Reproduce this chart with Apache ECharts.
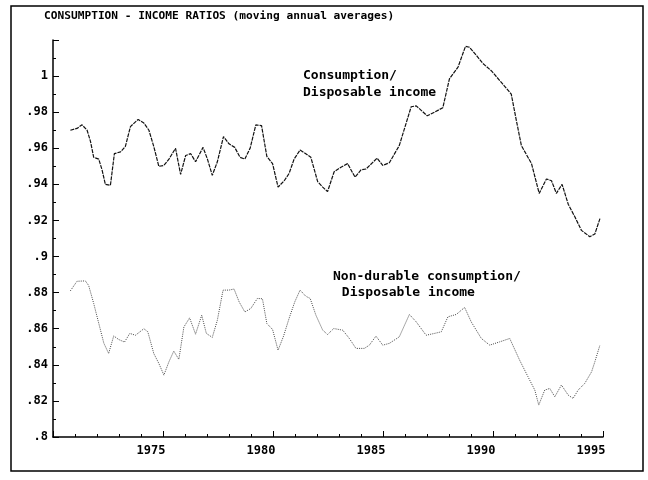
<!DOCTYPE html>
<html>
<head>
<meta charset="utf-8">
<script src="https://cdn.jsdelivr.net/npm/echarts@6/dist/echarts.min.js"></script>
<style>html,body{margin:0;padding:0;background:#fff}#c{width:648px;height:480px}</style>
</head>
<body>
<div id="c"></div>
<script>
var title = 'CONSUMPTION - INCOME RATIOS (moving annual averages)';
var consLabel = ['Consumption/', 'Disposable income'];
var ndLabel = ['Non-durable consumption/', ' Disposable income'];

var consYears = [1970.79,1971.09,1971.32,1971.55,1971.70,1971.85,1972.08,1972.23,1972.38,1972.61,1972.79,1973.07,1973.29,1973.52,1973.87,1974.13,1974.36,1974.58,1974.81,1975.04,1975.27,1975.57,1975.80,1976.03,1976.26,1976.48,1976.82,1977.02,1977.24,1977.47,1977.75,1978.00,1978.26,1978.50,1978.72,1978.96,1979.22,1979.48,1979.72,1979.98,1980.23,1980.51,1980.73,1980.96,1981.23,1981.49,1981.72,1982.03,1982.26,1982.48,1982.78,1983.09,1983.39,1983.73,1984.00,1984.23,1984.73,1984.99,1985.29,1985.74,1986.28,1986.51,1987.01,1987.34,1987.72,1988.02,1988.41,1988.75,1988.93,1989.24,1989.54,1989.92,1990.38,1990.83,1991.06,1991.29,1991.75,1992.10,1992.43,1992.66,1992.88,1993.14,1993.42,1993.72,1994.02,1994.40,1994.63,1994.86];
var consValues = [0.970,0.971,0.973,0.970,0.964,0.955,0.954,0.948,0.940,0.9395,0.957,0.958,0.961,0.972,0.976,0.974,0.970,0.961,0.950,0.9505,0.954,0.960,0.9455,0.956,0.957,0.9525,0.9605,0.954,0.945,0.9525,0.9665,0.9625,0.9605,0.955,0.954,0.960,0.973,0.9725,0.9555,0.9515,0.9385,0.942,0.946,0.954,0.959,0.957,0.955,0.9415,0.9385,0.936,0.947,0.9495,0.9515,0.944,0.948,0.9485,0.9545,0.9505,0.952,0.9615,0.983,0.9835,0.978,0.980,0.9825,0.9985,1.005,1.0165,1.016,1.0115,1.007,1.003,0.9965,0.990,0.9755,0.9615,0.9515,0.935,0.943,0.942,0.935,0.940,0.929,0.922,0.9145,0.911,0.9125,0.921];

var ndYears = [1970.79,1971.09,1971.47,1971.62,1971.85,1972.08,1972.31,1972.53,1972.76,1972.99,1973.25,1973.49,1973.75,1974.13,1974.31,1974.58,1974.81,1975.04,1975.27,1975.49,1975.72,1975.95,1976.21,1976.48,1976.76,1976.97,1977.24,1977.47,1977.73,1978.00,1978.23,1978.46,1978.72,1978.99,1979.29,1979.52,1979.72,1979.98,1980.23,1980.48,1980.73,1980.99,1981.23,1981.49,1981.69,1981.95,1982.26,1982.48,1982.76,1983.17,1983.47,1983.77,1984.15,1984.38,1984.68,1984.99,1985.29,1985.74,1986.20,1986.51,1986.96,1987.34,1987.65,1987.95,1988.33,1988.71,1989.01,1989.47,1989.85,1990.30,1990.76,1991.21,1991.59,1991.90,1992.08,1992.35,1992.58,1992.81,1993.11,1993.42,1993.64,1993.87,1994.17,1994.48,1994.63,1994.86];
var ndValues = [0.881,0.8863,0.8865,0.884,0.874,0.863,0.852,0.8463,0.856,0.854,0.8526,0.8574,0.8564,0.860,0.8583,0.8463,0.8408,0.8343,0.8417,0.8476,0.843,0.861,0.866,0.857,0.8675,0.8574,0.8552,0.8647,0.8814,0.8814,0.882,0.8749,0.8693,0.8712,0.8768,0.8766,0.8629,0.8596,0.8481,0.8559,0.8657,0.8749,0.8814,0.878,0.8768,0.8675,0.8592,0.8568,0.8601,0.8592,0.8546,0.8491,0.8491,0.8509,0.8559,0.8509,0.8519,0.8555,0.8679,0.8638,0.8564,0.8574,0.8583,0.8666,0.8679,0.8718,0.8638,0.8546,0.8509,0.8527,0.8546,0.8426,0.8334,0.826,0.8177,0.826,0.8269,0.8223,0.8288,0.8232,0.8214,0.826,0.8297,0.8361,0.8417,0.8509];

function pairs(xs, ys) { return xs.map(function (x, i) { return [x, ys[i]]; }); }

var FONT = '"DejaVu Sans Mono", "Liberation Mono", monospace';
var chart = echarts.init(document.getElementById('c'), null, { renderer: 'canvas' });
chart.setOption({
  animation: false,
  backgroundColor: '#fff',
  grid: { left: 53, right: 45, top: 40, bottom: 43, containLabel: false },
  xAxis: {
    type: 'value', min: 1970, max: 1995, interval: 5,
    axisLine: { show: true, lineStyle: { color: '#000', width: 1.5 } },
    axisTick: { show: true, inside: true, length: 6, lineStyle: { color: '#000', width: 1 } },
    minorTick: { show: true, splitNumber: 5, length: 3, lineStyle: { color: '#000', width: 1 } },
    splitLine: { show: false },
    axisLabel: {
      margin: 8, color: '#000', fontFamily: FONT, fontWeight: 'bold', fontSize: 12,
      padding: [0, 24, 0, 0],
      formatter: function (v) { return v <= 1970 ? '' : String(Math.round(v)); }
    }
  },
  yAxis: {
    type: 'value', min: 0.8, max: 1.02, interval: 0.02,
    axisLine: { show: true, lineStyle: { color: '#000', width: 1.5 } },
    axisTick: { show: true, inside: true, length: 6, lineStyle: { color: '#000', width: 1 } },
    minorTick: { show: true, splitNumber: 2, length: 3, lineStyle: { color: '#000', width: 1 } },
    splitLine: { show: false },
    axisLabel: {
      margin: 5, color: '#000', fontFamily: FONT, fontWeight: 'bold', fontSize: 12,
      formatter: function (v) {
        if (v > 1.005) return '';
        var s = v.toFixed(2).replace(/0+$/, '').replace(/\.$/, '');
        return s.replace(/^0\./, '.');
      }
    }
  },
  series: [
    {
      type: 'line', data: pairs(consYears, consValues), showSymbol: false, symbol: 'none',
      lineStyle: { color: '#111', width: 1.2, type: [4, 1] }, z: 3
    },
    {
      type: 'line', data: pairs(ndYears, ndValues), showSymbol: false, symbol: 'none',
      lineStyle: { color: '#444', width: 1, type: [1, 1.2] }, z: 3
    }
  ],
  graphic: [
    { type: 'rect', shape: { x: 11, y: 6, width: 632, height: 465 }, style: { fill: 'none', stroke: '#000', lineWidth: 1.5 }, silent: true },
    { type: 'text', left: 44, top: 11, style: { text: title, font: 'bold 11.2px ' + FONT, fill: '#000' } },
    { type: 'text', left: 303, top: 69, style: { text: consLabel[0], font: 'bold 13px ' + FONT, fill: '#000' } },
    { type: 'text', left: 303, top: 86, style: { text: consLabel[1], font: 'bold 13px ' + FONT, fill: '#000' } },
    { type: 'text', left: 333, top: 270, style: { text: ndLabel[0], font: 'bold 13px ' + FONT, fill: '#000' } },
    { type: 'text', left: 334, top: 286, style: { text: ndLabel[1], font: 'bold 13px ' + FONT, fill: '#000' } }
  ]
});
</script>
</body>
</html>
